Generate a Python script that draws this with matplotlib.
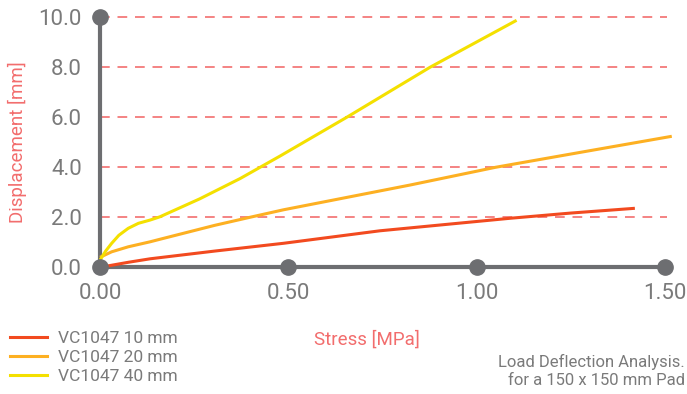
import matplotlib
matplotlib.use("Agg")
import matplotlib.pyplot as plt
from matplotlib.lines import Line2D

# ---- data ----
x_ticks = [0.0, 0.5, 1.0, 1.5]
x_tick_labels = ["0.00", "0.50", "1.00", "1.50"]
y_ticks = [0, 2, 4, 6, 8, 10]
y_tick_labels = ["0.0", "2.0", "4.0", "6.0", "8.0", "10.0"]

series_names = ["VC1047 10 mm", "VC1047 20 mm", "VC1047 40 mm"]

x_10mm = [0, 0.075, 0.133, 0.305, 0.487, 0.743, 1.088, 1.25, 1.42]
y_10mm = [0, 0.20, 0.34, 0.65, 0.96, 1.46, 1.96, 2.17, 2.36]

x_20mm = [0, 0.031, 0.075, 0.133, 0.164, 0.305, 0.398, 0.487, 0.823, 1.05, 1.31, 1.518]
y_20mm = [0.40, 0.62, 0.82, 1.02, 1.14, 1.68, 2.00, 2.30, 3.29, 4.00, 4.69, 5.24]

x_40mm = [0, 0.015, 0.031, 0.05, 0.075, 0.102, 0.133, 0.159, 0.265, 0.372, 0.425, 0.478, 0.655, 0.876, 1.106]
y_40mm = [0.29, 0.65, 0.96, 1.28, 1.56, 1.76, 1.89, 2.02, 2.74, 3.55, 4.00, 4.45, 6.00, 8.00, 9.88]

dot_x = [0, 0, 0.5, 1.0, 1.5]
dot_y = [0, 10, 0, 0, 0]

title_lines = ["Load Deflection Analysis.", "for a 150 x 150 mm Pad"]

# ---- style ----
plt.rcParams['font.family'] = ['Roboto', 'DejaVu Sans']
GRAY = '#6d6e71'
TXT = '#7a7a7a'
SALMON = '#f26d6d'
colors = ['#f24a1f', '#fdb022', '#f4e000']

fig = plt.figure(figsize=(6.87, 3.94), dpi=100)
ax = fig.add_axes([100/687, (394-267.3)/394, (665-100)/687, 250/394])

ax.set_xlim(0, 1.5)
ax.set_ylim(0, 10)

for yv in y_ticks[1:]:
    ax.plot([0, 1.505], [yv, yv], color=SALMON, lw=1.4, dashes=(5, 4), alpha=0.85,
            clip_on=False, zorder=1)

for xs, ys, c in zip([x_10mm, x_20mm, x_40mm], [y_10mm, y_20mm, y_40mm], colors):
    ax.plot(xs, ys, color=c, lw=2.2, clip_on=False, zorder=3, solid_capstyle='butt')

for s in ['top', 'right']:
    ax.spines[s].set_visible(False)
for s in ['left', 'bottom']:
    ax.spines[s].set_color(GRAY)
    ax.spines[s].set_linewidth(3)
    ax.spines[s].set_zorder(2)

ax.plot(dot_x, dot_y, 'o', color=GRAY, ms=11, clip_on=False, zorder=4)

ax.set_xticks(x_ticks)
ax.set_xticklabels(x_tick_labels)
ax.set_yticks(y_ticks)
ax.set_yticklabels(y_tick_labels)
ax.tick_params(axis='both', length=0, labelsize=16, labelcolor=TXT)
ax.tick_params(axis='y', pad=13)
ax.tick_params(axis='x', pad=11)

ax.set_ylabel("Displacement [mm]", color=SALMON, fontsize=13.5, labelpad=8)
fig.text(367/687, 1 - 340/394, "Stress [MPa]", color=SALMON, fontsize=13.5,
         ha='center', va='center')

handles = [Line2D([0], [0], color=c, lw=2.2) for c in colors]
leg = fig.legend(handles, series_names, loc='upper left',
                 bbox_to_anchor=(10/687, 1 - 331/394), frameon=False,
                 fontsize=12.5, labelspacing=0.22, handlelength=2.13,
                 handletextpad=0.63, borderpad=0, borderaxespad=0)
for t in leg.get_texts():
    t.set_color(TXT)

fig.text(685/687, 1 - 371/394, "\n".join(title_lines), color=TXT, fontsize=12,
         ha='right', va='center', linespacing=1.2, multialignment='right')

fig.savefig("out.png", dpi=100)
